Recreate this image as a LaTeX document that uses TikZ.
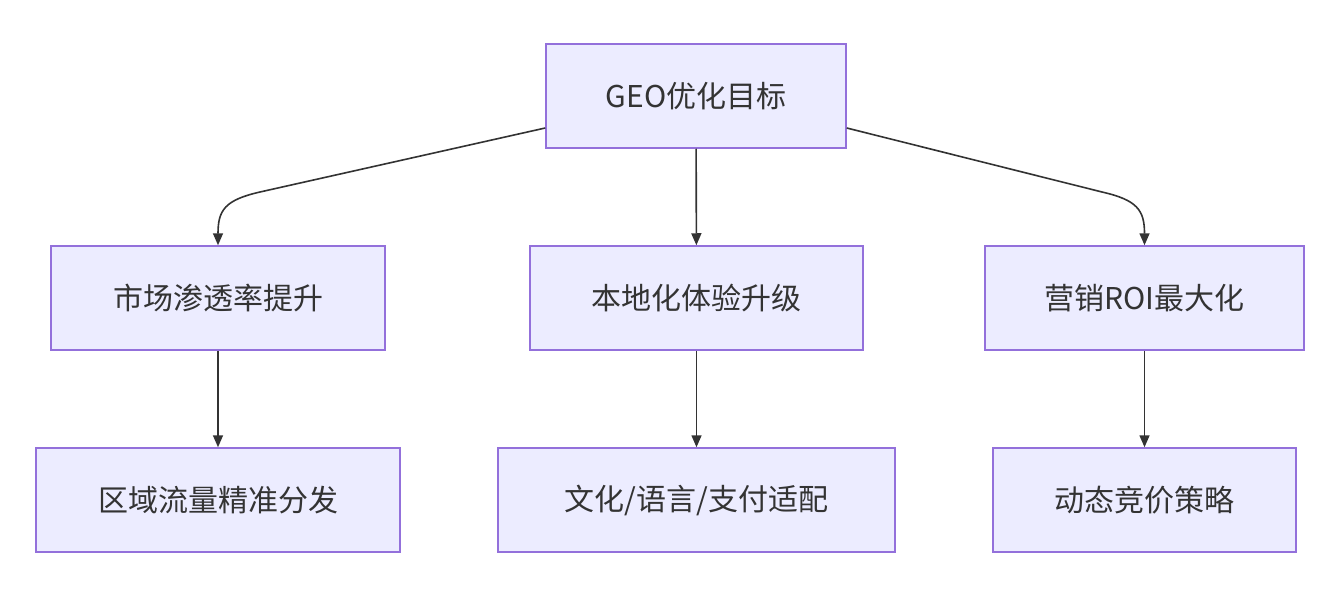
\documentclass[tikz,border=0pt]{standalone}
\usepackage{fontspec}
\newfontfamily\cjk{Noto Sans CJK SC}
\usetikzlibrary{arrows.meta}
\definecolor{boxfill}{HTML}{ECECFF}
\definecolor{boxline}{HTML}{9370DB}
\definecolor{txt}{HTML}{333333}
\begin{document}
\begin{tikzpicture}[x=1pt,y=-1pt,
  box/.style={draw=boxline,fill=boxfill,line width=1.5pt,inner sep=0pt,font=\cjk\fontsize{30}{36}\selectfont,text=txt},
  edge/.style={draw=txt,line width=1.6pt,-{Triangle[length=12pt,width=10pt]}}]
\useasboundingbox (0,0) rectangle (1337,591);
\node[box,minimum width=300pt,minimum height=104pt] (top) at (696,96) {GEO优化目标};
\node[box,minimum width=334pt,minimum height=104pt] (a) at (218,298) {市场渗透率提升};
\node[box,minimum width=333pt,minimum height=104pt] (b) at (696.5,298) {本地化体验升级};
\node[box,minimum width=319pt,minimum height=104pt] (c) at (1144.5,298) {营销ROI最大化};
\node[box,minimum width=364pt,minimum height=104pt] (a2) at (218,500) {区域流量精准分发};
\node[box,minimum width=397pt,minimum height=104pt] (b2) at (696.5,500) {文化/语言/支付适配};
\node[box,minimum width=303pt,minimum height=104pt] (c2) at (1144.5,500) {动态竞价策略};
\coordinate (tl) at ([yshift=-32pt]top.west);
\coordinate (tr) at ([yshift=-32pt]top.east);
\draw[edge] (tl) -- (260,192) .. controls (225,200) and (218,210) .. (a.north);
\draw[edge] (tr) -- (1102,192) .. controls (1137,200) and (1144.5,210) .. (c.north);
\draw[edge] (top) -- (b);
\draw[edge] (a) -- (a2);
\draw[edge] (b) -- (b2);
\draw[edge] (c) -- (c2);
\end{tikzpicture}
\end{document}
